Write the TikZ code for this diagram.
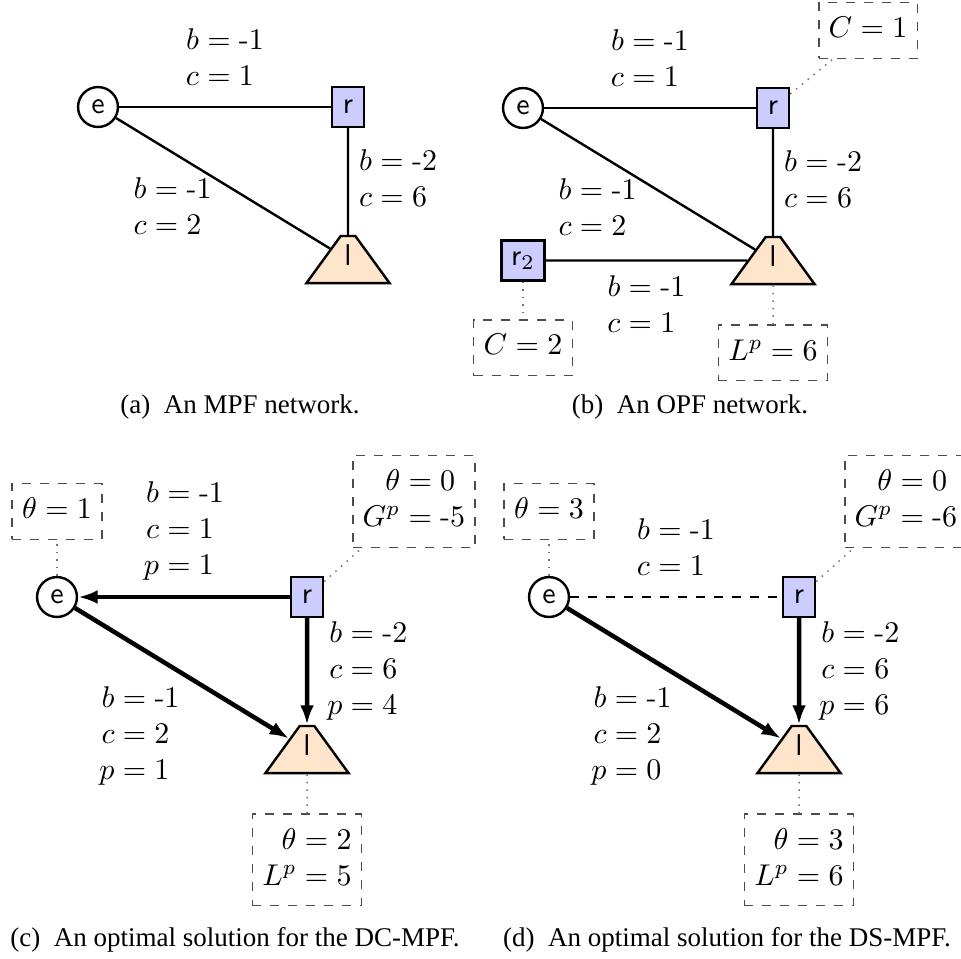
\documentclass[tikz,border=0pt]{standalone}
\usepackage{amsmath}
\usepackage{fontspec}
\usepackage{tikz}
\usetikzlibrary{arrows.meta,positioning,shapes.geometric}
\newfontfamily\capserif{Liberation Serif}
\newcommand{\capfont}{\capserif\fontsize{9}{11}\selectfont}
\newcommand{\vals}[1]{$\begin{array}{@{}r@{}l@{}}#1\end{array}$}
\newcommand{\hy}{\mbox{-}}

\begin{document}
\begin{tikzpicture}[x=0.3333pt, y=-0.3333pt,
      bus/.style={draw, line width=0.8pt, circle, minimum size=13.3pt,
                  inner sep=0pt, font=\sffamily},
      gen/.style={draw, line width=0.8pt, fill=blue!20, minimum width=10.7pt,
                  minimum height=13.3pt, inner sep=1pt, font=\sffamily},
      load/.style={draw, line width=0.8pt, fill=orange!20, trapezium,
                   trapezium left angle=60, trapezium right angle=60,
                   trapezium stretches=true, minimum width=27.7pt,
                   minimum height=15.7pt, inner sep=0pt, text depth=2.8pt,
                   font=\sffamily},
      wire/.style={line width=0.8pt},
      flow/.style={line width=1.5pt, -{Latex[length=6.5pt,width=4.6pt]}},
      val/.style={inner sep=3.3pt},
      info/.style={draw=black!70, dashed, line width=0.45pt, inner sep=3.3pt},
      tie/.style={draw=black!55, dotted, line width=0.5pt},
      subcap/.style={font=\capfont, anchor=base}
    ]
    \useasboundingbox (0,0) rectangle (961,958);
    % (a) MPF network
    \begin{scope}
      \node[bus] (ae) at (98,107) {e};
      \node[gen] (ar) at (348,107) {r};
      \node[load] (al) at (348,259.5) {l};
      \draw[wire] (ae) -- node[val, above] (aer) {\vals{b &{}= \hy1\\ c &{}= 1}} (ar);
      \draw[wire] (ar) -- node[val, right] (arl) {\vals{b &{}= \hy2\\ c &{}= 6}} (al);
      \draw[wire] (ae) -- (al);
      \node[val, anchor=north east] (ael) at (222,163) {\vals{b &{}= \hy1\\ c &{}= 2}};
    \end{scope}
    \node[subcap] (capa) at (240,413) {(a)\enspace An MPF network.};
    % (b) OPF network
    \begin{scope}[shift={(425,1)}]
      \node[bus] (be) at (98,107) {e};
      \node[gen] (br) at (348,107) {r};
      \node[load] (bl) at (348,259.5) {l};
      \node[gen, minimum width=14.3pt] (brr) at (98,259.5) {r$_2$};
      \draw[wire] (be) -- node[val, above] (ber) {\vals{b &{}= \hy1\\ c &{}= 1}} (br);
      \draw[wire] (br) -- node[val, right] (brl) {\vals{b &{}= \hy2\\ c &{}= 6}} (bl);
      \draw[wire] (be) -- (bl);
      \node[val, anchor=north east] (bel) at (222,163) {\vals{b &{}= \hy1\\ c &{}= 2}};
      \draw[wire] (brr) -- node[val, below] (brrl) {\vals{b &{}= \hy1\\ c &{}= 1}} (bl);
      \node[info, above right=9.3pt and 9.3pt of br] (brc) {\vals{C &{}= 1}};
      \node[info, below=12.5pt of brr] (brrc) {\vals{C &{}= 2}};
      \node[info, below=13pt of bl] (bll) {\vals{L^p &{}= 6}};
      \draw[tie] (br) -- (brc);
      \draw[tie] (brr) -- (brrc);
      \draw[tie] (bl) -- (bll);
    \end{scope}
    \node[subcap] (capb) at (690,413) {(b)\enspace An OPF network.};
    % (c) DC-MPF solution
    \begin{scope}[shift={(-41,490)}]
      \node[bus] (ce) at (98,107) {e};
      \node[gen] (cr) at (348,107) {r};
      \node[load] (cl) at (348,259.5) {l};
      \draw[flow] (cr) -- node[val, above] (cer) {\vals{b &{}= \hy1\\ c &{}= 1\\ p &{}= 1}} (ce);
      \draw[flow] (cr) -- node[val, right, xshift=2.7pt] (crl) {\vals{b &{}= \hy2\\ c &{}= 6\\ p &{}= 4}} (cl);
      \draw[flow] (ce) -- (cl);
      \node[val, anchor=north east] (cel) at (231,182) {\vals{b &{}= \hy1\\ c &{}= 2\\ p &{}= 1}};
      \node[info, above=12pt of ce] (cet) {\vals{\theta &{}= 1}};
      \node[info, above right=9.3pt and 9.3pt of cr] (crt) {\vals{\theta &{}= 0\\ G^p &{}= \hy5}};
      \node[info, below=13pt of cl] (clt) {\vals{\theta &{}= 2\\ L^p &{}= 5}};
      \draw[tie] (ce) -- (cet);
      \draw[tie] (cr) -- (crt);
      \draw[tie] (cl) -- (clt);
    \end{scope}
    \node[subcap] (capc) at (235,946) {(c)\enspace An optimal solution for the DC-MPF.};
    % (d) DS-MPF solution
    \begin{scope}[shift={(451,490)}]
      \node[bus] (de) at (98,107) {e};
      \node[gen] (dr) at (348,107) {r};
      \node[load] (dl) at (348,259.5) {l};
      \draw[wire, dashed] (de) -- node[val, above] (der) {\vals{b &{}= \hy1\\ c &{}= 1}} (dr);
      \draw[flow] (dr) -- node[val, right, xshift=2.7pt] (drl) {\vals{b &{}= \hy2\\ c &{}= 6\\ p &{}= 6}} (dl);
      \draw[flow] (de) -- (dl);
      \node[val, anchor=north east] (del) at (231,182) {\vals{b &{}= \hy1\\ c &{}= 2\\ p &{}= 0}};
      \node[info, above=12pt of de] (det) {\vals{\theta &{}= 3}};
      \node[info, above right=9.3pt and 9.3pt of dr] (drt) {\vals{\theta &{}= 0\\ G^p &{}= \hy6}};
      \node[info, below=13pt of dl] (dlt) {\vals{\theta &{}= 3\\ L^p &{}= 6}};
      \draw[tie] (de) -- (det);
      \draw[tie] (dr) -- (drt);
      \draw[tie] (dl) -- (dlt);
    \end{scope}
    \node[subcap] (capd) at (727,946) {(d)\enspace An optimal solution for the DS-MPF.};
\end{tikzpicture}
\end{document}
